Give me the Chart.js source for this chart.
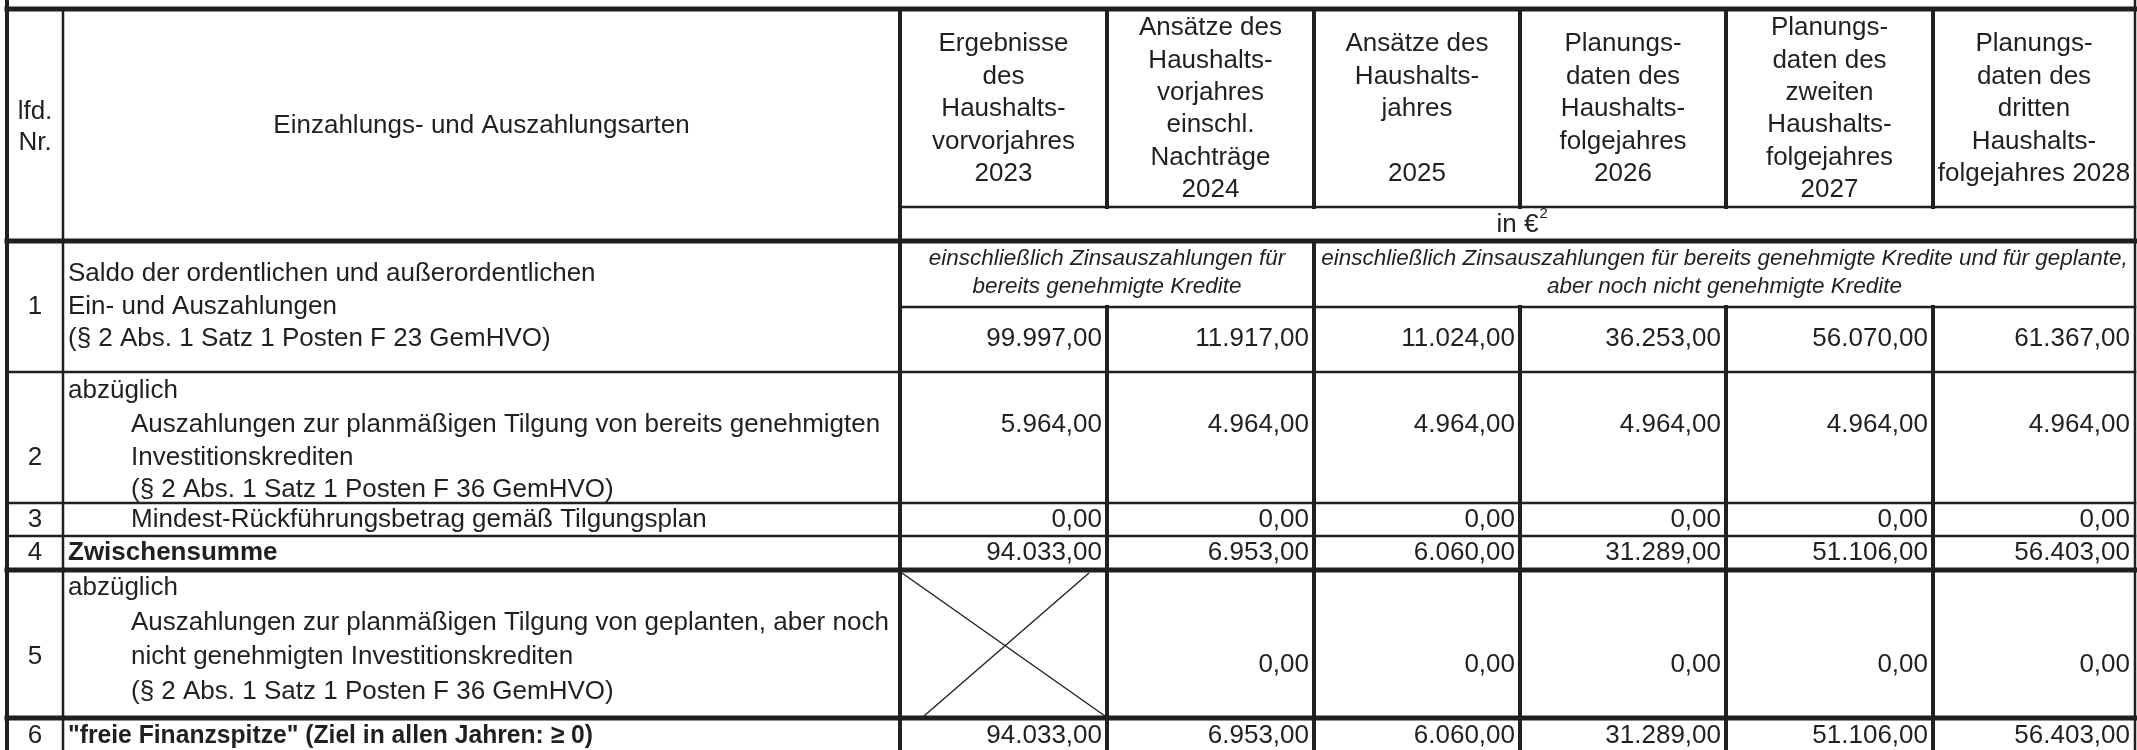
<!DOCTYPE html>
<html lang="de">
<head>
<meta charset="utf-8">
<title>Freie Finanzspitze</title>
<script src="https://cdn.jsdelivr.net/npm/chart.js@4.4.1/dist/chart.umd.min.js"></script>
<style>
  html, body { margin: 0; padding: 0; background: #fff; }
  #wrap { width: 2137px; height: 750px; }
</style>
</head>
<body>
<div id="wrap"><canvas id="tabelle" width="2137" height="750"></canvas></div>
<script>
// Spaltenköpfe
const columnHeads = [
    ['Ergebnisse', 'des', 'Haushalts-', 'vorvorjahres', '2023'],
    ['Ansätze des', 'Haushalts-', 'vorjahres', 'einschl.', 'Nachträge', '2024'],
    ['Ansätze des', 'Haushalts-', 'jahres', '', '2025'],
    ['Planungs-', 'daten des', 'Haushalts-', 'folgejahres', '2026'],
    ['Planungs-', 'daten des', 'zweiten', 'Haushalts-', 'folgejahres', '2027'],
    ['Planungs-', 'daten des', 'dritten', 'Haushalts-', 'folgejahres 2028']
];
const unitLabel = 'in €';
const noteBefore = ['einschließlich Zinsauszahlungen für', 'bereits genehmigte Kredite'];
const noteAfter = ['einschließlich Zinsauszahlungen für bereits genehmigte Kredite und für geplante,', 'aber noch nicht genehmigte Kredite'];

// Werte je Zeile (2023 ... 2028), null = gesperrte Zelle
const saldo = [99997, 11917, 11024, 36253, 56070, 61367];
const tilgungGenehmigt = [5964, 4964, 4964, 4964, 4964, 4964];
const mindestRueckfuehrung = [0, 0, 0, 0, 0, 0];
const zwischensumme = [94033, 6953, 6060, 31289, 51106, 56403];
const tilgungGeplant = [null, 0, 0, 0, 0, 0];
const freieFinanzspitze = [94033, 6953, 6060, 31289, 51106, 56403];

// Zeilentexte: [Text, eingerückt?]
const rowLabels = [
    [['Saldo der ordentlichen und außerordentlichen', false], ['Ein- und Auszahlungen', false], ['(§ 2 Abs. 1 Satz 1 Posten F 23 GemHVO)', false]],
    [['abzüglich', false], ['Auszahlungen zur planmäßigen Tilgung von bereits genehmigten', true], ['Investitionskrediten', true], ['(§ 2 Abs. 1 Satz 1 Posten F 36 GemHVO)', true]],
    [['Mindest-Rückführungsbetrag gemäß Tilgungsplan', true]],
    [['Zwischensumme', false]],
    [['abzüglich', false], ['Auszahlungen zur planmäßigen Tilgung von geplanten, aber noch', true], ['nicht genehmigten Investitionskrediten', true], ['(§ 2 Abs. 1 Satz 1 Posten F 36 GemHVO)', true]],
    [['"freie Finanzspitze" (Ziel in allen Jahren: ≥ 0)', false]]
];
const rowValues = [saldo, tilgungGenehmigt, mindestRueckfuehrung, zwischensumme, tilgungGeplant, freieFinanzspitze];
const boldRows = [false, false, false, true, false, true];

// Tabellenraster in Achseneinheiten (Skalen 0..2137 / 0..750)
const colX = [7, 63, 900, 1107, 1314, 1520, 1726, 1933, 2135];
const headTop = 9, headSplit = 207, headBottom = 241, noteBottom = 307;
const rowBottom = [372, 503, 536, 570, 718, 752];
const rowLineY = [
    [274, 307, 339],
    [391, 425, 458, 490],
    [520],
    [553],
    [588, 623, 657, 692],
    [736]
];
const valueY = [339, 425, 520, 553, 665, 736];
const nrLine = [1, 2, 0, 0, 2, 0];

const ink = '#231f20';
const thick = 5, medium = 4, thin = 2.5;

function fmtEuro(v) {
    const parts = v.toFixed(2).split('.');
    return parts[0].replace(/\B(?=(\d{3})+(?!\d))/g, '.') + ',' + parts[1];
}

// Rasterlinien als Datensätze
const segments = [];
function seg(x1, y1, x2, y2, w) { segments.push({ x1, y1, x2, y2, w }); }

const L = colX[0], R = colX[colX.length - 1];
seg(L, 0, L, 752, medium);
seg(R, 0, R, 752, thin);
seg(colX[1], headTop, colX[1], 752, thin);
seg(colX[2], headTop, colX[2], 752, medium);
for (let c = 3; c < colX.length - 1; c++) {
    seg(colX[c], headTop, colX[c], headSplit, medium);
    const from = c === 4 ? headBottom : noteBottom;
    seg(colX[c], from, colX[c], 752, medium);
}
seg(L, headTop, R, headTop, thick);
seg(colX[2], headSplit, R, headSplit, thin);
seg(L, headBottom, R, headBottom, thick);
seg(colX[2], noteBottom, R, noteBottom, thin);
rowBottom.slice(0, -1).forEach((yb, i) => seg(L, yb, R, yb, (i === 3 || i === 4) ? thick : thin));
// Kreuz in der gesperrten Zelle
rowValues.forEach((vals, r) => {
    vals.forEach((v, c) => {
        if (v === null) {
            const top = rowBottom[r - 1], bot = rowBottom[r];
            seg(colX[c + 2] + 2, top + 3, colX[c + 3] - 2, bot - 2, 1.4);
            seg(colX[c + 2] + 24, bot - 2, colX[c + 3] - 18, top + 3, 1.4);
        }
    });
});

const datasets = segments.map(s => ({
    data: [{ x: s.x1, y: s.y1 }, { x: s.x2, y: s.y2 }],
    showLine: true,
    borderColor: ink,
    borderWidth: s.w,
    borderCapStyle: s.w > 2 ? 'square' : 'butt',
    pointRadius: 0,
    clip: false
}));

const FONT = '"Liberation Sans", Arial, sans-serif';

const textPlugin = {
    id: 'tableText',
    afterDatasetsDraw(chart) {
        const ctx = chart.ctx;
        const x = chart.scales.x, y = chart.scales.y;
        const px = v => x.getPixelForValue(v);
        const py = v => y.getPixelForValue(v);
        ctx.save();
        ctx.fillStyle = ink;
        ctx.textBaseline = 'middle';

        // Kopf
        ctx.font = '26px ' + FONT;
        ctx.textAlign = 'center';
        columnHeads.forEach((lines, c) => {
            const cx = (colX[c + 2] + colX[c + 3]) / 2;
            const mid = (headTop + headSplit) / 2 + 1;
            lines.forEach((t, i) => {
                ctx.fillText(t, px(cx), py(mid + (i - (lines.length - 1) / 2) * 32.4));
            });
        });
        ctx.fillText('lfd.', px(35), py(112));
        ctx.fillText('Nr.', px(35), py(143));
        ctx.fillText('Einzahlungs- und Auszahlungsarten', px((colX[1] + colX[2]) / 2), py(126));

        // Einheit
        const ux = (colX[2] + R) / 2;
        ctx.fillText(unitLabel, px(ux), py(225));
        const uw = ctx.measureText(unitLabel).width;
        ctx.font = '15px ' + FONT;
        ctx.textAlign = 'left';
        ctx.fillText('2', px(ux) + uw / 2 + 1, py(214));

        // Hinweise
        ctx.font = 'italic 22.5px ' + FONT;
        ctx.textAlign = 'center';
        noteBefore.forEach((t, i) => ctx.fillText(t, px((colX[2] + colX[4]) / 2), py(259 + i * 28)));
        noteAfter.forEach((t, i) => ctx.fillText(t, px((colX[4] + R) / 2), py(259 + i * 28)));

        // Zeilen
        rowLabels.forEach((lines, r) => {
            const yAt = i => rowLineY[r][i];
            ctx.font = '26px ' + FONT;
            ctx.textAlign = 'center';
            ctx.fillText(String(r + 1), px(35), py(yAt(nrLine[r])));
            ctx.textAlign = 'left';
            ctx.font = (boldRows[r] ? 'bold ' : '') + '26px ' + FONT;
            lines.forEach(([t, indent], i) => {
                if (r === 5) ctx.fillText(t, px(indent ? 131 : 68), py(yAt(i)), 525);
                else ctx.fillText(t, px(indent ? 131 : 68), py(yAt(i)));
            });
            ctx.font = '26px ' + FONT;
            ctx.textAlign = 'right';
            rowValues[r].forEach((v, c) => {
                if (v === null) return;
                ctx.fillText(fmtEuro(v), px(colX[c + 3] - 5), py(valueY[r]));
            });
        });
        ctx.restore();
    }
};

new Chart(document.getElementById('tabelle'), {
    type: 'scatter',
    data: { datasets },
    options: {
        responsive: false,
        maintainAspectRatio: false,
        animation: false,
        devicePixelRatio: 1,
        layout: { padding: 0 },
        events: [],
        plugins: { legend: { display: false }, tooltip: { enabled: false } },
        scales: {
            x: { type: 'linear', min: 0, max: 2137, display: false },
            y: { type: 'linear', min: 0, max: 750, reverse: true, display: false }
        }
    },
    plugins: [textPlugin]
});
</script>
</body>
</html>
